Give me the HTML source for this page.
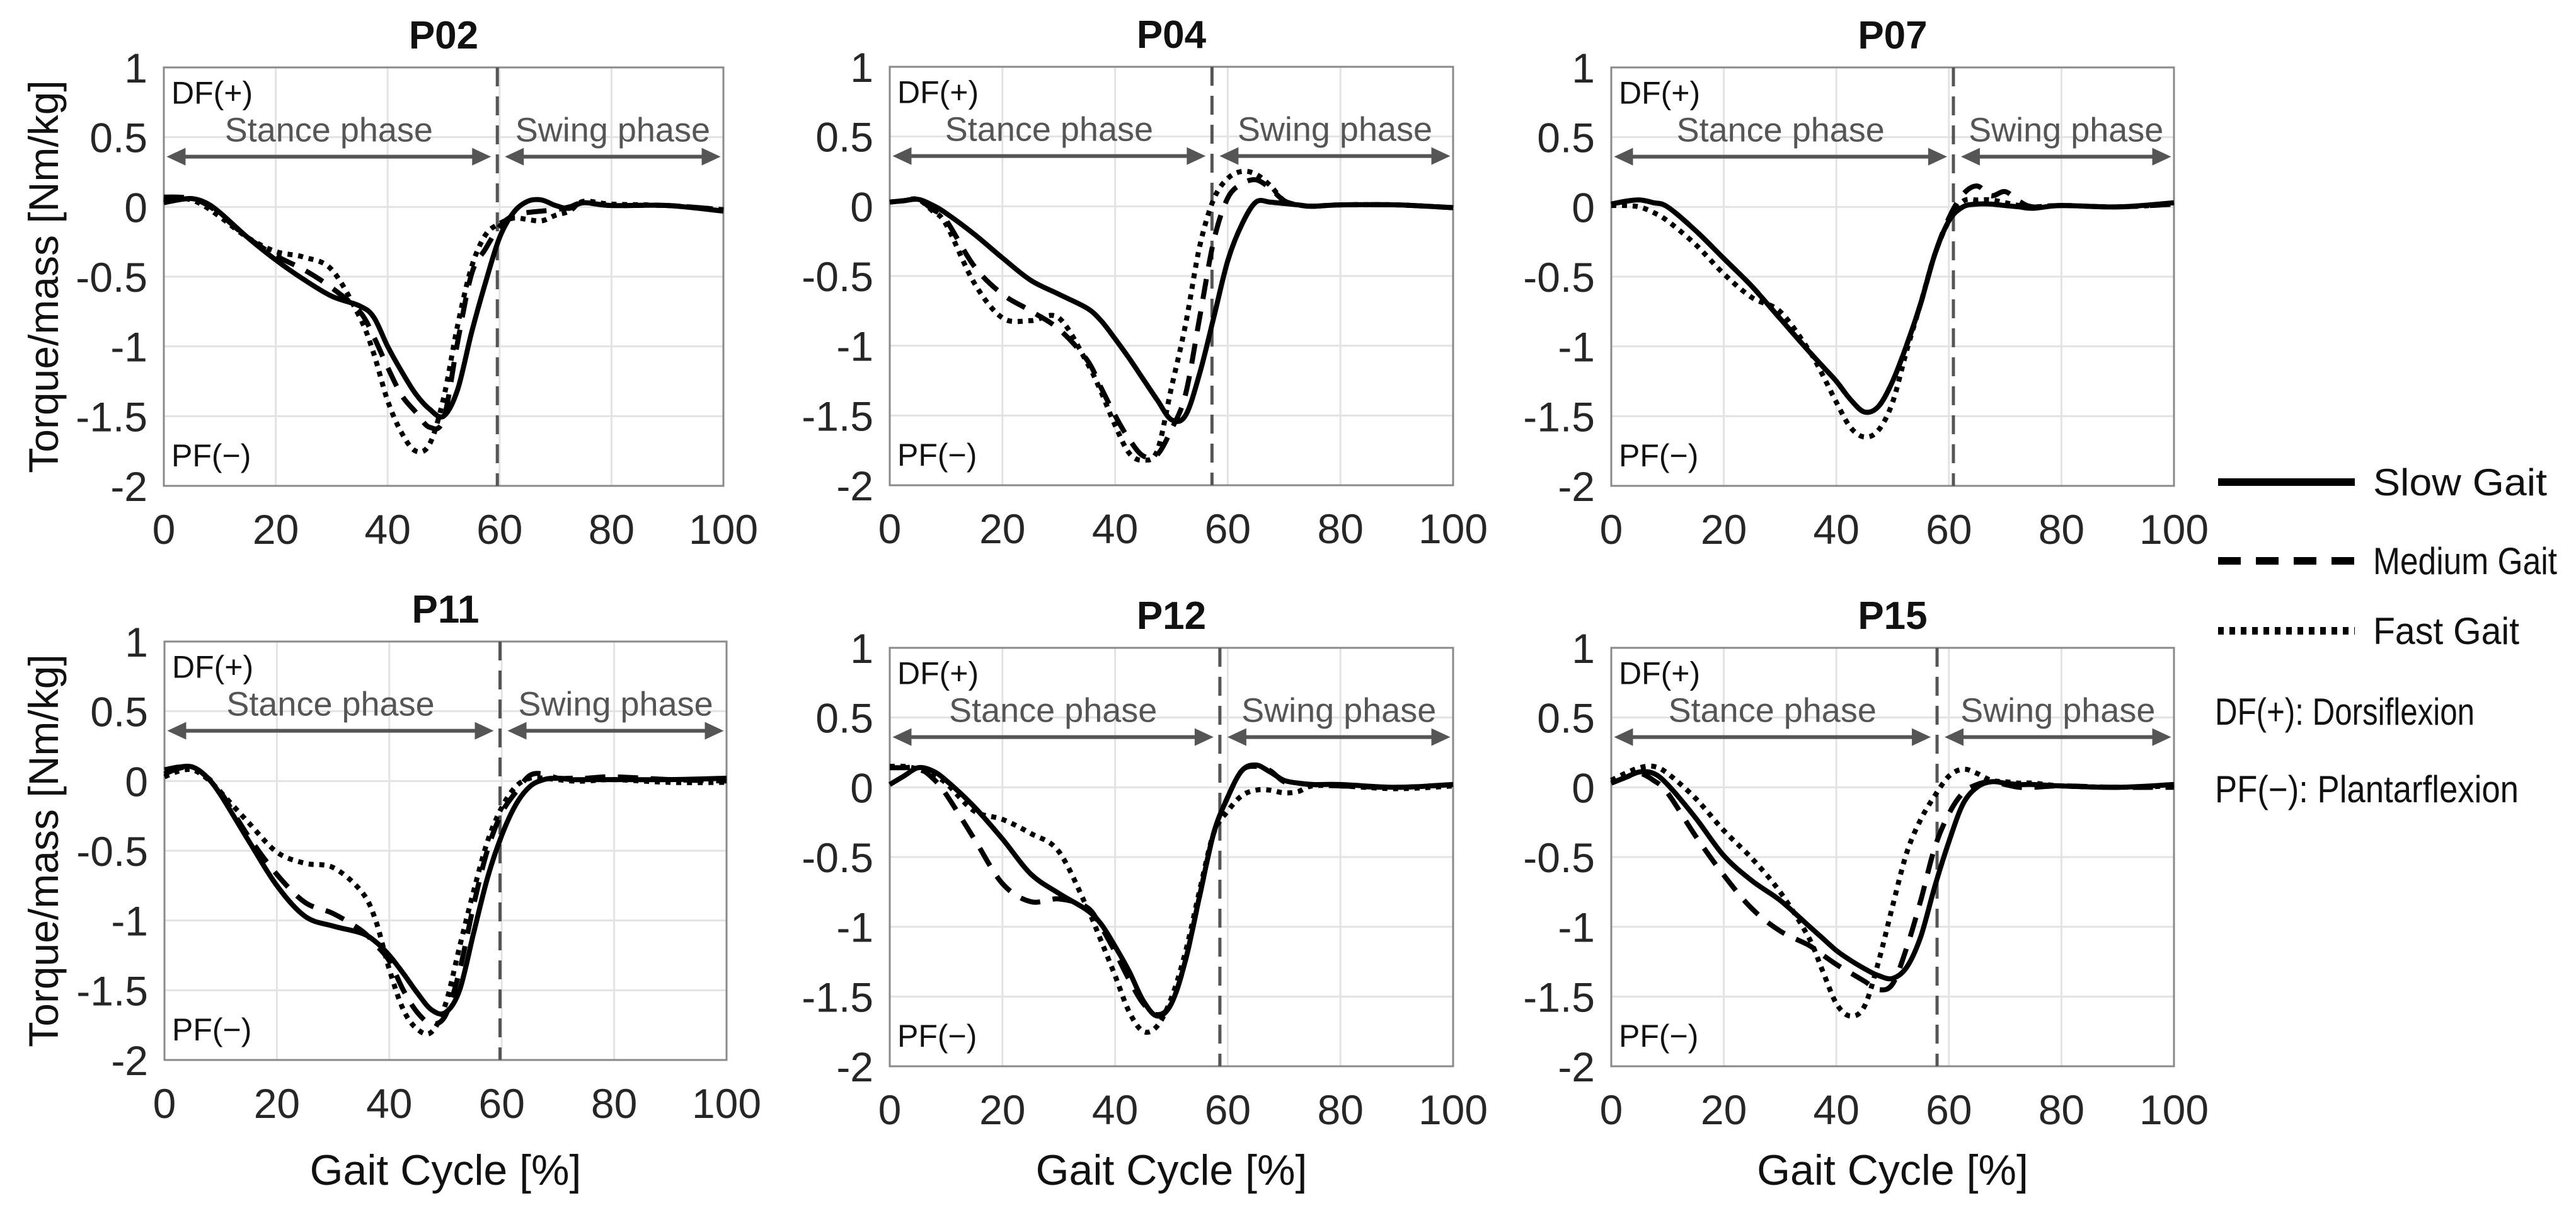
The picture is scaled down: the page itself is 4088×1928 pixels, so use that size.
<!DOCTYPE html>
<html><head><meta charset="utf-8"><style>
html,body{margin:0;padding:0;background:#fff;}
svg{display:block;font-family:"Liberation Sans",Arial,sans-serif;}
</style></head><body>
<svg id="fig" width="4088" height="1928" viewBox="0 0 4088 1928" xmlns="http://www.w3.org/2000/svg">
<g id="legend">
<line x1="3520" y1="765" x2="3737" y2="765" stroke="#000" stroke-width="12"/>
<text x="3766" y="786" font-size="60" fill="#111" textLength="276" lengthAdjust="spacingAndGlyphs">Slow Gait</text>
<line x1="3520" y1="890" x2="3737" y2="890" stroke="#000" stroke-width="12" stroke-dasharray="36 24"/>
<text x="3766" y="911" font-size="60" fill="#111" textLength="292" lengthAdjust="spacingAndGlyphs">Medium Gait</text>
<line x1="3520" y1="1001" x2="3737" y2="1001" stroke="#000" stroke-width="12" stroke-dasharray="9 9"/>
<text x="3766" y="1022" font-size="60" fill="#111" textLength="232" lengthAdjust="spacingAndGlyphs">Fast Gait</text>
<text x="3515" y="1150" font-size="60" fill="#111" textLength="412" lengthAdjust="spacingAndGlyphs">DF(+): Dorsiflexion</text>
<text x="3515" y="1273" font-size="60" fill="#111" textLength="482" lengthAdjust="spacingAndGlyphs">PF(−): Plantarflexion</text>
</g>
</svg>
<script>
const gaitX = [0,2.5,5,7.5,10,15,20,25,30,35,37.5,40,42.5,45,47.5,50,52.5,55,57.5,60,62.5,65,67.5,70,72.5,75,80,90,100];
const panelNames = ["P02","P04","P07","P11","P12","P15"];
const phaseSplit = [59.6,57.2,60.8,59.7,58.6,57.9];
const xTicks = [0,20,40,60,80,100];
const yTicks = [1,0.5,0,-0.5,-1,-1.5,-2];
const yTickLabels = ["1","0.5","0","-0.5","-1","-1.5","-2"];

const p02Slow = [0.03,0.05,0.06,0.03,-0.04,-0.22,-0.38,-0.52,-0.64,-0.71,-0.79,-1.0,-1.18,-1.34,-1.45,-1.5,-1.31,-0.9,-0.54,-0.22,-0.04,0.04,0.05,0.01,-0.01,0.03,0.01,0.01,-0.03];
const p02Medium = [0.07,0.07,0.06,0.02,-0.05,-0.22,-0.35,-0.45,-0.58,-0.75,-0.93,-1.15,-1.35,-1.47,-1.58,-1.52,-0.97,-0.48,-0.3,-0.14,-0.06,-0.04,-0.03,-0.02,0.0,0.03,0.01,0.01,-0.02];
const p02Fast = [0.05,0.06,0.05,0.0,-0.07,-0.22,-0.32,-0.36,-0.45,-0.79,-1.05,-1.39,-1.62,-1.75,-1.7,-1.37,-0.85,-0.43,-0.2,-0.12,-0.08,-0.09,-0.1,-0.06,-0.03,0.04,0.02,0.01,-0.02];

const p04Slow = [0.03,0.04,0.05,0.01,-0.05,-0.2,-0.37,-0.53,-0.63,-0.73,-0.82,-0.95,-1.09,-1.24,-1.39,-1.53,-1.5,-1.2,-0.8,-0.39,-0.13,0.03,0.03,0.02,0.01,0.0,0.01,0.01,-0.01];
const p04Medium = [0.03,0.04,0.05,-0.02,-0.1,-0.43,-0.63,-0.75,-0.88,-1.1,-1.3,-1.5,-1.67,-1.79,-1.78,-1.6,-1.35,-0.8,-0.25,0.06,0.16,0.19,0.13,0.04,0.01,0.0,0.01,0.01,-0.01];
const p04Fast = [0.03,0.04,0.05,-0.03,-0.13,-0.55,-0.8,-0.82,-0.8,-1.12,-1.33,-1.57,-1.77,-1.82,-1.75,-1.3,-0.85,-0.29,0.05,0.2,0.25,0.23,0.15,0.04,0.01,0.0,0.01,0.01,-0.01];

const p07Slow = [0.02,0.04,0.05,0.03,0.0,-0.17,-0.37,-0.57,-0.8,-1.03,-1.14,-1.25,-1.38,-1.47,-1.43,-1.25,-0.99,-0.69,-0.34,-0.1,0.0,0.02,0.02,0.01,0.0,-0.01,0.01,0.0,0.03];
const p07Medium = [0.02,0.04,0.05,0.03,0.0,-0.17,-0.37,-0.57,-0.8,-1.03,-1.14,-1.25,-1.38,-1.47,-1.43,-1.25,-0.99,-0.69,-0.34,-0.08,0.09,0.15,0.08,0.11,0.04,0.0,0.01,0.0,0.02];
const p07Fast = [0.01,0.01,0.0,-0.04,-0.1,-0.27,-0.48,-0.65,-0.75,-1.02,-1.2,-1.4,-1.58,-1.65,-1.6,-1.4,-1.03,-0.69,-0.34,-0.1,0.04,0.05,0.05,0.03,0.01,0.0,0.01,0.0,0.02];

const p11Slow = [0.08,0.1,0.1,0.03,-0.1,-0.43,-0.75,-0.97,-1.04,-1.09,-1.15,-1.25,-1.38,-1.52,-1.64,-1.66,-1.5,-1.09,-0.69,-0.39,-0.17,-0.04,0.01,0.02,0.01,0.01,0.01,0.01,0.02];
const p11Medium = [0.05,0.09,0.1,0.03,-0.08,-0.4,-0.67,-0.87,-0.95,-1.07,-1.17,-1.29,-1.5,-1.66,-1.74,-1.68,-1.36,-0.89,-0.49,-0.23,-0.08,0.04,0.05,0.02,0.02,0.02,0.03,0.01,0.0];
const p11Fast = [0.03,0.07,0.08,0.02,-0.08,-0.3,-0.51,-0.59,-0.62,-0.79,-0.99,-1.35,-1.64,-1.78,-1.8,-1.6,-1.19,-0.79,-0.43,-0.19,-0.04,0.02,0.02,0.01,0.0,0.0,0.01,-0.01,-0.01];

const p12Slow = [0.02,0.08,0.14,0.12,0.05,-0.14,-0.37,-0.62,-0.76,-0.88,-0.98,-1.14,-1.32,-1.53,-1.64,-1.55,-1.24,-0.78,-0.33,-0.07,0.12,0.16,0.11,0.05,0.03,0.02,0.02,0.0,0.02];
const p12Medium = [0.14,0.14,0.14,0.07,-0.05,-0.37,-0.69,-0.82,-0.8,-0.86,-1.0,-1.18,-1.38,-1.55,-1.63,-1.55,-1.24,-0.78,-0.33,-0.07,0.12,0.15,0.12,0.04,0.03,0.02,0.01,0.0,0.02];
const p12Fast = [0.15,0.15,0.13,0.09,0.03,-0.17,-0.23,-0.33,-0.46,-0.86,-1.1,-1.35,-1.61,-1.75,-1.71,-1.51,-1.18,-0.74,-0.33,-0.17,-0.06,-0.02,-0.02,-0.04,-0.03,0.01,0.01,-0.01,0.01];

const p15Slow = [0.03,0.07,0.11,0.1,0.02,-0.22,-0.49,-0.67,-0.81,-0.99,-1.08,-1.17,-1.24,-1.3,-1.35,-1.37,-1.29,-1.07,-0.71,-0.39,-0.12,0.0,0.04,0.03,0.02,0.02,0.01,0.0,0.02];
const p15Medium = [0.03,0.07,0.1,0.05,-0.04,-0.35,-0.63,-0.87,-1.03,-1.13,-1.2,-1.27,-1.33,-1.39,-1.45,-1.41,-1.15,-0.81,-0.43,-0.19,-0.04,0.02,0.04,0.02,0.0,0.0,0.01,0.0,0.0];
const p15Fast = [0.05,0.1,0.14,0.15,0.1,-0.08,-0.31,-0.51,-0.75,-1.07,-1.31,-1.55,-1.64,-1.57,-1.25,-0.85,-0.47,-0.23,-0.06,0.08,0.13,0.1,0.05,0.04,0.03,0.03,0.01,0.0,0.01];

const slowSeries = [p02Slow,p04Slow,p07Slow,p11Slow,p12Slow,p15Slow];
const mediumSeries = [p02Medium,p04Medium,p07Medium,p11Medium,p12Medium,p15Medium];
const fastSeries = [p02Fast,p04Fast,p07Fast,p11Fast,p12Fast,p15Fast];

const NS = "http://www.w3.org/2000/svg";
const svg = document.getElementById("fig");
const boxes = [
  {l:260,r:1148,t:107,b:771},{l:1412,r:2306,t:106,b:770},{l:2557,r:3450,t:107,b:771},
  {l:261,r:1153,t:1018,b:1682},{l:1412,r:2306,t:1028,b:1692},{l:2557,r:3450,t:1028,b:1692}
];
function mk(tag, attrs, parent){
  const e = document.createElementNS(NS, tag);
  for (const k in attrs) e.setAttribute(k, attrs[k]);
  parent.appendChild(e);
  return e;
}
function smoothPath(pts){
  let d = "M"+pts[0][0].toFixed(1)+","+pts[0][1].toFixed(1);
  for (let i=0;i<pts.length-1;i++){
    const p0=pts[Math.max(0,i-1)], p1=pts[i], p2=pts[i+1], p3=pts[Math.min(pts.length-1,i+2)];
    const c1x=p1[0]+(p2[0]-p0[0])/6, c1y=p1[1]+(p2[1]-p0[1])/6;
    const c2x=p2[0]-(p3[0]-p1[0])/6, c2y=p2[1]-(p3[1]-p1[1])/6;
    d += " C"+c1x.toFixed(1)+","+c1y.toFixed(1)+" "+c2x.toFixed(1)+","+c2y.toFixed(1)+" "+p2[0].toFixed(1)+","+p2[1].toFixed(1);
  }
  return d;
}
boxes.forEach((bx, pi) => {
  const g = mk("g", {}, svg);
  
  
  const xs = v => bx.l + (v/100)*(bx.r-bx.l);
  const ys = v => bx.t + ((1-v)/3)*(bx.b-bx.t);
  xTicks.forEach(t => {
    const ln = mk("line", {x1:xs(t),x2:xs(t),y1:bx.t,y2:bx.b,stroke:"#e3e3e3","stroke-width":3}, g);
    
    
    const tx = mk("text", {x:xs(t), y:bx.b+92, "font-size":66, fill:"#262626", "text-anchor":"middle"}, g);
    tx.textContent = String(t);
    
    
  });
  yTicks.forEach((t, k) => {
    const ln = mk("line", {x1:bx.l,x2:bx.r,y1:ys(t),y2:ys(t),stroke:"#e3e3e3","stroke-width":3}, g);
    
    
    const tx = mk("text", {x:bx.l-26, y:ys(t)+24, "font-size":66, fill:"#262626", "text-anchor":"end"}, g);
    tx.textContent = yTickLabels[k];
    
    
  });
  const frame = mk("rect", {x:bx.l,y:bx.t,width:bx.r-bx.l,height:bx.b-bx.t,fill:"none",stroke:"#8a8a8a","stroke-width":3}, g);
  
  
  const title = mk("text", {x:(bx.l+bx.r)/2, y:bx.t-30, "font-size":62, "font-weight":"bold", fill:"#111", "text-anchor":"middle"}, g);
  title.textContent = panelNames[pi];
  
  
  const vx = xs(phaseSplit[pi]);
  const vl = mk("line", {x1:vx,x2:vx,y1:bx.t,y2:bx.b,stroke:"#555","stroke-width":5,"stroke-dasharray":"30 16"}, g);
  
  
  const ay = ys(0.36);
  function arrow(x1, x2, name){
    const ag = mk("g", {}, g);
    
    
    mk("line", {x1:x1+20,x2:x2-20,y1:ay,y2:ay,stroke:"#555","stroke-width":6}, ag);
    mk("polygon", {points:`${x1},${ay} ${x1+30},${ay-14} ${x1+30},${ay+14}`, fill:"#555"}, ag);
    mk("polygon", {points:`${x2},${ay} ${x2-30},${ay-14} ${x2-30},${ay+14}`, fill:"#555"}, ag);
  }
  arrow(xs(0.5), vx-10, 'stance-arrow');
  arrow(vx+12, xs(99.5), 'swing-arrow');
  const st = mk("text", {x:(xs(0.5)+vx-10)/2, y:ys(0.47), "font-size":54, fill:"#555", "text-anchor":"middle"}, g);
  st.textContent = "Stance phase";
  
  
  const sw = mk("text", {x:(vx+12+xs(99.5))/2, y:ys(0.47), "font-size":54, fill:"#555", "text-anchor":"middle"}, g);
  sw.textContent = "Swing phase";
  
  
  const df = mk("text", {x:bx.l+12, y:ys(0.74), "font-size":50, fill:"#111"}, g);
  df.textContent = "DF(+)";
  
  
  const pf = mk("text", {x:bx.l+12, y:ys(-1.86), "font-size":50, fill:"#111"}, g);
  pf.textContent = "PF(−)";
  
  
  const specs = [[slowSeries[pi],"", "slow-gait-line"],[mediumSeries[pi],"32 20","medium-gait-line"],[fastSeries[pi],"8 9","fast-gait-line"]];
  specs.forEach(s => {
    const pts = gaitX.map((x,i) => [xs(x), ys(s[0][i])]);
    const p = mk("path", {d:smoothPath(pts), fill:"none", stroke:"#000", "stroke-width":8, "stroke-linejoin":"round"}, g);
    if (s[1]) p.setAttribute("stroke-dasharray", s[1]);
    
    
  });
  if (pi===0 || pi===3){
    const cy = (bx.t+bx.b)/2;
    const yl = mk("text", {x:68, y:cy, "font-size":66, fill:"#111", "text-anchor":"middle", transform:`rotate(-90 68 ${cy})`, dy:"24"}, g);
    yl.textContent = "Torque/mass [Nm/kg]";
    
    
  }
  if (pi>=3){
    const xl = mk("text", {x:(bx.l+bx.r)/2, y:1880, "font-size":68, fill:"#111", "text-anchor":"middle"}, g);
    xl.textContent = "Gait Cycle [%]";
    
    
  }
});
</script>
</body></html>
